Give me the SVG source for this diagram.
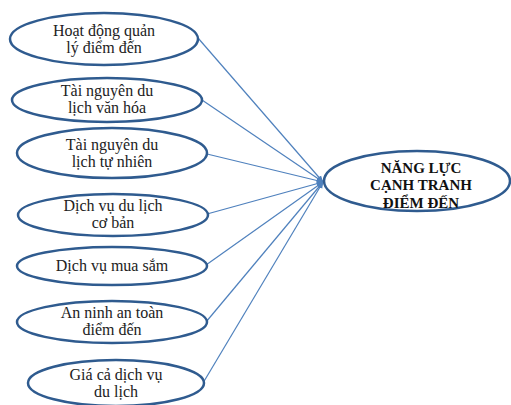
<svg xmlns="http://www.w3.org/2000/svg" width="511" height="405" viewBox="0 0 511 405">
<defs>
<marker id="arr" viewBox="0 0 10 10" refX="9" refY="5" markerWidth="7" markerHeight="7" orient="auto" markerUnits="userSpaceOnUse">
<path d="M0,1 L10,5 L0,9 Z" fill="#4f81bd"/>
</marker>
<style>
.n{fill:#fff;stroke:#2f5b8f;stroke-width:2.5}
.t{font-family:"Liberation Serif","Times New Roman",serif;font-size:16px;fill:#222;text-anchor:middle}
.b{font-family:"Liberation Serif","Times New Roman",serif;font-size:15px;font-weight:bold;fill:#111;text-anchor:middle}
.c{stroke:#4f81bd;stroke-width:1.2;fill:none;marker-end:url(#arr)}
</style>
</defs>
<rect width="511" height="405" fill="#fff"/>
<g id="connectors">
<line class="c" x1="198" y1="38" x2="323" y2="182"/>
<line class="c" x1="202" y1="100" x2="323" y2="182"/>
<line class="c" x1="207" y1="154" x2="323" y2="182"/>
<line class="c" x1="207" y1="214" x2="323" y2="182"/>
<line class="c" x1="206" y1="265" x2="323" y2="182"/>
<line class="c" x1="206" y1="322" x2="323" y2="182"/>
<line class="c" x1="203" y1="383" x2="323" y2="182"/>
</g>
<g id="n1"><ellipse class="n" cx="104" cy="39" rx="94" ry="26"/><text class="t" x="104" y="35.5">Hoạt động quản</text><text class="t" x="104" y="53">lý điểm đến</text></g>
<g id="n2"><ellipse class="n" cx="107" cy="100" rx="95" ry="22"/><text class="t" x="107" y="95.5">Tài nguyên du</text><text class="t" x="107" y="113">lịch văn hóa</text></g>
<g id="n3"><ellipse class="n" cx="112" cy="153" rx="95" ry="25"/><text class="t" x="112" y="149.5">Tài nguyên du</text><text class="t" x="112" y="167">lịch tự nhiên</text></g>
<g id="n4"><ellipse class="n" cx="113" cy="215" rx="95" ry="21"/><text class="t" x="113" y="210.5">Dịch vụ du lịch</text><text class="t" x="113" y="228">cơ bản</text></g>
<g id="n5"><ellipse class="n" cx="112" cy="266" rx="95" ry="19"/><text class="t" x="112" y="271">Dịch vụ mua sắm</text></g>
<g id="n6"><ellipse class="n" cx="112" cy="322" rx="95" ry="21"/><text class="t" x="112" y="317.5">An ninh an toàn</text><text class="t" x="112" y="335">điểm đến</text></g>
<g id="n7"><ellipse class="n" cx="116" cy="383" rx="88" ry="23"/><text class="t" x="116" y="379.5">Giá cả dịch vụ</text><text class="t" x="116" y="397">du lịch</text></g>
<g id="target"><ellipse class="n" cx="417" cy="181" rx="93" ry="30"/><text class="b" x="421" y="172.5">NĂNG LỰC</text><text class="b" x="421" y="190">CẠNH TRANH</text><text class="b" x="421" y="207.5">ĐIỂM ĐẾN</text></g>
</svg>
